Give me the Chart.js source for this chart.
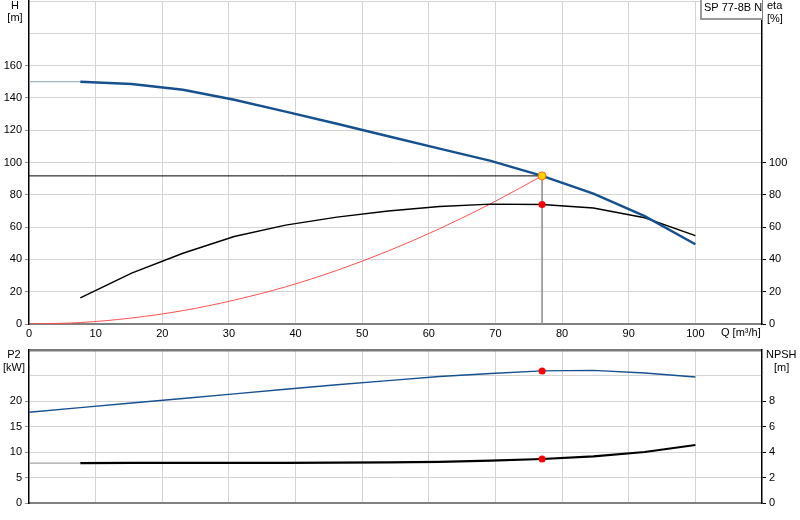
<!DOCTYPE html>
<html>
<head>
<meta charset="utf-8">
<script src="https://cdn.jsdelivr.net/npm/chart.js@4.4.1/dist/chart.umd.min.js"></script>
<style>
  body { margin: 0; background: #fff; }
  #wrap { position: relative; width: 800px; height: 520px; overflow: hidden; }
  #top { position: absolute; left: 0; top: -4px; }
  #bottom { position: absolute; left: 0; top: 345px; }
</style>
</head>
<body>
<div id="wrap">
  <canvas id="top" width="800" height="349"></canvas>
  <canvas id="bottom" width="800" height="175"></canvas>
</div>
<script>
// flow points of the pump data (m3/h)
const qData = [7.7, 15.4, 23.1, 30.8, 38.5, 46.2, 53.9, 61.6, 69.3, 77, 84.7, 92.4, 100];

// pump curve H (m)
const qHStart = [0, 7.7];
const hStart = [150, 150];
const hValues = [150, 148.6, 145, 138.8, 131.5, 124, 116.3, 108.6, 101, 91.7, 80.7, 66.8, 49.4];

// efficiency eta (%)
const etaValues = [16.2, 31.5, 43.8, 54.2, 61.2, 66.2, 70, 72.8, 74.2, 74, 71.8, 65.8, 54.7];

// system curve (red)
const qSys = [0, 7.7, 15.4, 23.1, 30.8, 38.5, 46.2, 53.9, 61.6, 69.3, 77];
const sysValues = [0, 0.9, 3.7, 8.3, 14.8, 23, 33.2, 45.2, 59, 74.5, 91.7];

// P2 (kW)
const qP2 = [0, 7.7, 15.4, 23.1, 30.8, 38.5, 46.2, 53.9, 61.6, 69.3, 77, 84.7, 92.4, 100];
const p2Values = [17.8, 18.7, 19.6, 20.5, 21.4, 22.3, 23.2, 24.0, 24.8, 25.4, 25.9, 26.0, 25.5, 24.7];

// NPSH (m)
const qNpshStart = [0, 7.7];
const npshStart = [3.13, 3.13];
const npshValues = [3.13, 3.14, 3.15, 3.15, 3.15, 3.16, 3.18, 3.22, 3.33, 3.45, 3.65, 4.0, 4.55];

// duty point
const dutyQ = 77;
const dutyH = 91.7;
const dutyEta = 74;
const dutyP2 = 25.9;
const dutyNpsh = 3.45;

// tick labels
const qTickLabels = [0, 10, 20, 30, 40, 50, 60, 70, 80, 90, 100];
const hTickLabels = [0, 20, 40, 60, 80, 100, 120, 140, 160];
const etaTickLabels = [0, 20, 40, 60, 80, 100];
const p2TickLabels = [0, 5, 10, 15, 20];
const npshTickLabels = [0, 2, 4, 6, 8];

const FONT = "'Liberation Sans', Arial, sans-serif";
const GRID = "#d4d4d4";
const BLUE = "#17508e";
const TOP_SHIFT = 4; // top canvas sits 4px above the page edge

function pts(xs, ys) {
  return xs.map((x, i) => ({ x: x, y: ys[i] }));
}

function fixSize(w, h) {
  return (scale) => {
    if (w !== null) scale.width = w;
    if (h !== null) scale.height = h;
    scale.paddingTop = 0;
    scale.paddingBottom = 0;
    scale.paddingLeft = 0;
    scale.paddingRight = 0;
  };
}

function labelCb(list) {
  return (v) => (list.includes(v) ? String(v) : "");
}

function line(data, color, width, extra) {
  return Object.assign({
    data: data,
    showLine: true,
    borderColor: color,
    backgroundColor: color,
    borderWidth: width,
    pointRadius: 0,
    tension: 0,
    fill: false
  }, extra || {});
}

function textPlugin(items, dy) {
  return {
    id: "texts",
    afterDraw(chart) {
      const ctx = chart.ctx;
      ctx.save();
      items.forEach(t => {
        if (t.box) {
          ctx.fillStyle = "#fff";
          ctx.fillRect(t.box[0], t.box[1] + dy, t.box[2], t.box[3]);
          ctx.strokeStyle = "#9a9a9a";
          ctx.lineWidth = 2;
          ctx.beginPath();
          ctx.moveTo(t.box[0], t.box[1] + dy);
          ctx.lineTo(t.box[0], t.box[1] + t.box[3] + dy);
          ctx.lineTo(t.box[0] + t.box[2], t.box[1] + t.box[3] + dy);
          ctx.stroke();
        }
        ctx.font = "11px " + FONT;
        ctx.fillStyle = "#000";
        ctx.textAlign = t.align || "left";
        ctx.textBaseline = "middle";
        ctx.fillText(t.text, t.x, t.y + dy);
      });
      ctx.restore();
    }
  };
}

Chart.defaults.font.family = FONT;
Chart.defaults.font.size = 11;
Chart.defaults.color = "#000";

const commonOpts = {
  responsive: false,
  animation: false,
  devicePixelRatio: 1,
  plugins: { legend: { display: false }, tooltip: { enabled: false } }
};

// top chart: H and eta
new Chart(document.getElementById("top"), {
  type: "scatter",
  data: {
    datasets: [
      { data: [{ x: dutyQ, y: dutyH }], pointRadius: 4, pointBackgroundColor: "#ffd200",
        pointBorderColor: "#ff6a00", pointBorderWidth: 1, showLine: false },
      { data: [{ x: dutyQ, y: dutyEta }], pointRadius: 3.5, pointBackgroundColor: "#ff0000",
        pointBorderColor: "#ff0000", pointBorderWidth: 0, showLine: false },
      line(pts(qData, hValues), BLUE, 2.5),
      line(pts(qHStart, hStart), "#8aa0bd", 1),
      line(pts(qData, etaValues), "#000", 1.4),
      line(pts(qSys, sysValues), "#ff5050", 1, { cubicInterpolationMode: "monotone" }),
      line([{ x: 0, y: dutyH }, { x: dutyQ, y: dutyH }], "#000", 1),
      line([{ x: dutyQ, y: dutyH }, { x: dutyQ, y: 0 }], "#8c8c8c", 1.5)
    ]
  },
  options: Object.assign({}, commonOpts, {
    layout: { padding: 0 },
    scales: {
      x: {
        type: "linear", min: 0, max: 110,
        afterFit: fixSize(null, 21),
        ticks: { stepSize: 10, padding: 3, callback: labelCb(qTickLabels), maxRotation: 0, autoSkip: false },
        grid: { color: (c) => (c.tick.value === 0 || c.tick.value === 110 ? "rgba(0,0,0,0)" : GRID), drawTicks: false },
        border: { color: "#808080", width: 2 }
      },
      y: {
        type: "linear", position: "left", min: 0, max: 200,
        afterFit: fixSize(29, null),
        ticks: { stepSize: 20, padding: 3, callback: labelCb(hTickLabels) },
        grid: {
          color: (c) => (c.tick.value === 0 ? "rgba(0,0,0,0)" : GRID),
          tickColor: (c) => (hTickLabels.includes(c.tick.value) ? "#8c8c8c" : "rgba(0,0,0,0)"),
          tickLength: 4
        },
        border: { color: "#000", width: 1.5 }
      },
      y2: {
        type: "linear", position: "right", min: 0, max: 200,
        afterFit: fixSize(38, null),
        ticks: { stepSize: 20, padding: 3, callback: labelCb(etaTickLabels) },
        grid: {
          drawOnChartArea: false,
          tickColor: (c) => (etaTickLabels.includes(c.tick.value) ? "#000" : "rgba(0,0,0,0)"),
          tickLength: 4
        },
        border: { color: "#000", width: 1.5 }
      }
    }
  }),
  plugins: [textPlugin([
    { text: "H", x: 15, y: 6, align: "center" },
    { text: "[m]", x: 15, y: 18, align: "center" },
    { text: "eta", x: 767, y: 6 },
    { text: "[%]", x: 767, y: 19 },
    { text: "Q [m³/h]", x: 721, y: 333 },
    { text: "SP 77-8B N", x: 704, y: 8, box: [701, -2, 61, 21] }
  ], TOP_SHIFT)]
});

// bottom chart: P2 and NPSH
new Chart(document.getElementById("bottom"), {
  type: "scatter",
  data: {
    datasets: [
      { data: [{ x: dutyQ, y: dutyP2 }], yAxisID: "y", pointRadius: 3.5, pointBackgroundColor: "#ff0000",
        pointBorderWidth: 0, showLine: false },
      { data: [{ x: dutyQ, y: dutyNpsh }], yAxisID: "y2", pointRadius: 3.5, pointBackgroundColor: "#ff0000",
        pointBorderWidth: 0, showLine: false },
      line(pts(qP2, p2Values), BLUE, 1.4, { yAxisID: "y" }),
      line(pts(qData, npshValues), "#000", 2.2, { yAxisID: "y2" }),
      line(pts(qNpshStart, npshStart), "#8c8c8c", 1, { yAxisID: "y2" })
    ]
  },
  options: Object.assign({}, commonOpts, {
    layout: { padding: { top: 5, bottom: 0, left: 0, right: 0 } },
    scales: {
      x: {
        type: "linear", min: 0, max: 110,
        afterFit: fixSize(null, 17),
        ticks: { stepSize: 10, display: false },
        grid: { color: (c) => (c.tick.value === 0 || c.tick.value === 110 ? "rgba(0,0,0,0)" : GRID), drawTicks: false },
        border: { color: "#808080", width: 2 }
      },
      y: {
        type: "linear", position: "left", min: 0, max: 30,
        afterFit: fixSize(29, null),
        ticks: { stepSize: 5, padding: 3, callback: labelCb(p2TickLabels) },
        grid: {
          color: (c) => (c.tick.value === 0 ? "rgba(0,0,0,0)" : (c.tick.value === 30 ? "#7a7a7a" : GRID)),
          lineWidth: (c) => (c.tick.value === 30 ? 2.5 : 1),
          tickColor: (c) => (p2TickLabels.includes(c.tick.value) ? "#8c8c8c" : "rgba(0,0,0,0)"),
          tickLength: 4
        },
        border: { color: "#000", width: 1.5 }
      },
      y2: {
        type: "linear", position: "right", min: 0, max: 12,
        afterFit: fixSize(38, null),
        ticks: { stepSize: 2, padding: 3, callback: labelCb(npshTickLabels) },
        grid: {
          drawOnChartArea: false,
          tickColor: (c) => (npshTickLabels.includes(c.tick.value) ? "#000" : "rgba(0,0,0,0)"),
          tickLength: 4
        },
        border: { color: "#000", width: 1.5 }
      }
    }
  }),
  plugins: [textPlugin([
    { text: "P2", x: 14, y: 10, align: "center" },
    { text: "[kW]", x: 14, y: 23, align: "center" },
    { text: "NPSH", x: 766, y: 10 },
    { text: "[m]", x: 774, y: 23 }
  ], 0)]
});
</script>
</body>
</html>
